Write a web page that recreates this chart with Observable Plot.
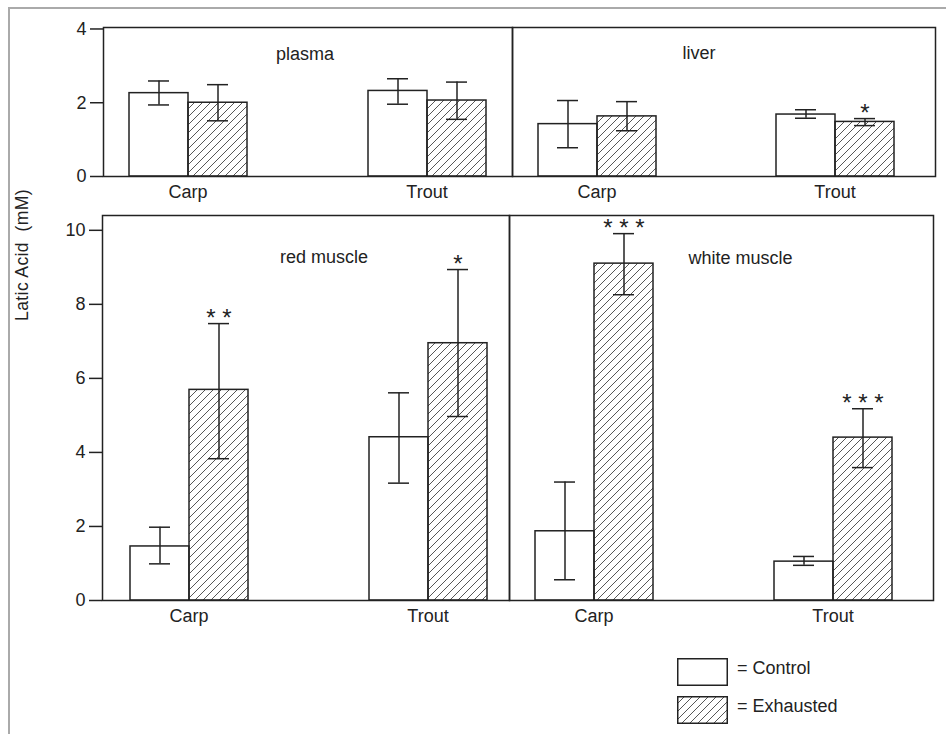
<!DOCTYPE html>
<html>
<head>
<meta charset="utf-8">
<script src="https://cdn.jsdelivr.net/npm/d3@7"></script>
<script src="https://cdn.jsdelivr.net/npm/@observablehq/plot@0.6"></script>
<style>
  html, body { margin: 0; padding: 0; background: #fff; }
  #chart { position: relative; width: 946px; height: 734px; overflow: hidden; font-family: "Liberation Sans", Arial, sans-serif; color: #222; }
  #chart svg.panel { position: absolute; }
  .border { position: absolute; left: 8px; top: 7px; width: 950px; height: 740px; border-left: 2px solid #aaa; border-top: 2px solid #aaa; }
  .ylab { position: absolute; left: 22px; top: 255px; transform: translate(-50%, -50%) rotate(-90deg); font-size: 17.5px; white-space: pre; letter-spacing: 0.4px; }
  .legend-item { position: absolute; display: flex; align-items: center; font-size: 18px; }
  .legend-item svg { display: block; }
</style>
</head>
<body>
<svg width="0" height="0" style="position:absolute">
  <defs>
    <pattern id="hatch" patternUnits="userSpaceOnUse" width="8" height="8">
      <path d="M-2,2 l4,-4 M0,8 l8,-8 M6,10 l4,-4" stroke="#444" stroke-width="0.9" fill="none"/>
    </pattern>
  </defs>
</svg>
<div id="chart">
  <div class="border"></div>
  <div class="ylab">Latic Acid  (mM)</div>
</div>
<script>
// ---- data ----
const species = ["Carp", "Trout"];
const treatments = ["Control", "Exhausted"];
const organs = ["plasma", "liver", "red muscle", "white muscle"];
// order of values: Carp-Control, Carp-Exhausted, Trout-Control, Trout-Exhausted
const plasmaMean = [2.26, 2.00, 2.32, 2.06];
const plasmaLow  = [1.94, 1.51, 1.96, 1.55];
const plasmaHigh = [2.59, 2.49, 2.65, 2.56];
const plasmaSig  = ["", "", "", ""];
const liverMean = [1.42, 1.63, 1.68, 1.48];
const liverLow  = [0.78, 1.24, 1.58, 1.38];
const liverHigh = [2.06, 2.03, 1.81, 1.57];
const liverSig  = ["", "", "", "*"];
const redMean = [1.46, 5.69, 4.41, 6.95];
const redLow  = [0.99, 3.83, 3.17, 4.97];
const redHigh = [1.98, 7.48, 5.61, 8.94];
const redSig  = ["", "* *", "", "*"];
const whiteMean = [1.87, 9.10, 1.05, 4.40];
const whiteLow  = [0.56, 8.26, 0.95, 3.59];
const whiteHigh = [3.20, 9.91, 1.19, 5.18];
const whiteSig  = ["", "* * *", "", "* * *"];
const topTicks = [0, 2, 4];
const bottomTicks = [0, 2, 4, 6, 8, 10];
const topMax = 4.04;
const bottomMax = 10.4;
const legendLabels = ["= Control", "= Exhausted"];

function rows(mean, low, high, sig) {
  const out = [];
  let i = 0;
  for (const s of species) for (const t of treatments) {
    out.push({species: s, treatment: t, mean: mean[i], low: low[i], high: high[i], sig: sig[i]});
    i++;
  }
  return out;
}
const organData = {
  "plasma": rows(plasmaMean, plasmaLow, plasmaHigh, plasmaSig),
  "liver": rows(liverMean, liverLow, liverHigh, liverSig),
  "red muscle": rows(redMean, redLow, redHigh, redSig),
  "white muscle": rows(whiteMean, whiteLow, whiteHigh, whiteSig)
};

// ---- layout ----
const layout = {
  "plasma":       {left: 0,   top: 0,   width: 514, height: 200, mL: 103, mR: 2,  mT: 27, mB: 24, yMax: topMax, ticks: topTicks, axis: true,  pi: 0.502, po: 0.105, align: 0.5,  tdx: -3,  tdy: 20},
  "liver":        {left: 511, top: 0,   width: 435, height: 200, mL: 1,   mR: 11, mT: 27, mB: 24, yMax: topMax, ticks: topTicks, axis: false, pi: 0.502, po: 0.136, align: 0.37, tdx: -25, tdy: 19},
  "red muscle":   {left: 0,   top: 200, width: 511, height: 430, mL: 102, mR: 2,  mT: 15, mB: 30, yMax: bottomMax, ticks: bottomTicks, axis: true,  pi: 0.504, po: 0.1,   align: 0.54, tdx: 18, tdy: 35},
  "white muscle": {left: 508, top: 200, width: 437, height: 430, mL: 1,   mR: 12, mT: 15, mB: 30, yMax: bottomMax, ticks: bottomTicks, axis: false, pi: 0.502, po: 0.138, align: 0.38, tdx: 19, tdy: 36}
};

const ink = "#222";
const font = "'Liberation Sans', Arial, sans-serif";
const chart = document.getElementById("chart");

function place(svg, L) {
  svg.classList.add("panel");
  svg.style.left = L.left + "px";
  svg.style.top = L.top + "px";
  chart.appendChild(svg);
}

for (const organ of organs) {
  const L = layout[organ];
  const data = organData[organ];
  const common = {
    width: L.width, height: L.height,
    marginLeft: L.mL, marginRight: L.mR, marginTop: L.mT, marginBottom: L.mB,
    style: {fontFamily: font, fontSize: "18px", color: ink, background: "transparent", overflow: "visible"}
  };
  // bars, error bars, significance marks (faceted by species)
  const bars = Plot.plot({
    ...common,
    fx: {domain: species, axis: "bottom", label: null, tickSize: 0, tickPadding: 9, paddingInner: L.pi, paddingOuter: L.po, align: L.align},
    x: {domain: treatments, axis: null, padding: 0},
    y: {domain: [0, L.yMax], axis: null},
    marks: [
      Plot.barY(data, {fx: "species", x: "treatment", y: "mean",
        fill: d => d.treatment === "Control" ? "white" : "url(#hatch)",
        stroke: ink, strokeWidth: 1.5}),
      Plot.ruleX(data, {fx: "species", x: "treatment", y1: "low", y2: "high", stroke: ink, strokeWidth: 1.5}),
      Plot.tickY(data, {fx: "species", x: "treatment", y: "high", insetLeft: 19, insetRight: 19, stroke: ink, strokeWidth: 1.5}),
      Plot.tickY(data, {fx: "species", x: "treatment", y: "low", insetLeft: 19, insetRight: 19, stroke: ink, strokeWidth: 1.5}),
      Plot.text(data.filter(d => d.sig), {fx: "species", x: "treatment", y: "high", text: "sig", dy: -5, fontSize: 24, fill: ink})
    ]
  });
  place(bars, L);
  // panel frame, y axis (left column only) and panel title
  const frame = Plot.plot({
    ...common,
    y: {domain: [0, L.yMax], axis: null},
    marks: [
      ...(L.axis ? [Plot.axisY({ticks: L.ticks, tickFormat: "d", label: null, tickSize: 13, tickPadding: 4, stroke: ink, strokeWidth: 1.5, fill: ink})] : []),
      Plot.frame({stroke: ink, strokeWidth: 1.5}),
      Plot.text([organ], {frameAnchor: "top", dx: L.tdx, dy: L.tdy, fontSize: 18, fill: ink})
    ]
  });
  place(frame, L);
}

// ---- legend ----
const legendFills = ["white", "url(#hatch)"];
const legendTops = [658, 696];
legendLabels.forEach((lab, i) => {
  const item = document.createElement("div");
  item.className = "legend-item";
  item.style.left = "677px";
  item.style.top = legendTops[i] + "px";
  item.innerHTML = `<svg width="51" height="28"><rect x="0.75" y="0.75" width="49.5" height="26.5" fill="${legendFills[i]}" stroke="${ink}" stroke-width="1.5"/></svg><span style="margin-left:9px;position:relative;top:-4px">${lab}</span>`;
  chart.appendChild(item);
});
</script>
</body>
</html>
